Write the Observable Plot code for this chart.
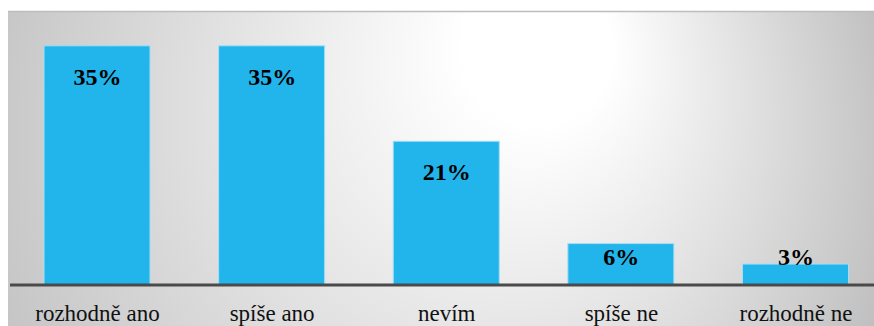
<!DOCTYPE html>
<html>
<head>
<meta charset="utf-8">
<script src="https://cdn.jsdelivr.net/npm/d3@7"></script>
<script src="https://cdn.jsdelivr.net/npm/@observablehq/plot@0.6"></script>
<style>
  html, body { margin: 0; padding: 0; background: #ffffff; }
  #chart svg { display: block; }
</style>
</head>
<body>
<div id="chart"></div>
<script>
// Survey answers and their shares (percent)
const categories = ["rozhodně ano", "spíše ano", "nevím", "spíše ne", "rozhodně ne"];
const shares = [35, 35, 21, 6, 3];
const shareLabels = ["35%", "35%", "21%", "6%", "3%"];

const rows = categories.map((category, i) => ({
  category,
  share: shares[i],
  label: shareLabels[i]
}));

const W = 874, H = 326;
const serif = "'Liberation Serif', 'Times New Roman', Times, serif";

// Bars shorter than this keep their label pinned just above the axis
const insideMin = 8.5;

// Shaded chart panel: broad white glow near the top, grey towards the edges
function panel(index, scales, values, dimensions) {
  const {width, height} = dimensions;
  const g = d3.create("svg:g");
  const grad = g.append("defs").append("radialGradient")
    .attr("id", "panel-shade")
    .attr("gradientUnits", "userSpaceOnUse")
    .attr("cx", 410).attr("cy", 165).attr("r", 500)
    .attr("fx", 560).attr("fy", 30);
  grad.append("stop").attr("offset", "0").attr("stop-color", "#ffffff");
  grad.append("stop").attr("offset", "0.15").attr("stop-color", "#ffffff");
  grad.append("stop").attr("offset", "1").attr("stop-color", "#bebebe");
  g.append("rect")
    .attr("x", 8).attr("y", 11)
    .attr("width", width - 8).attr("height", height - 11)
    .attr("fill", "url(#panel-shade)");
  g.append("line")
    .attr("x1", 8).attr("x2", width)
    .attr("y1", 11.5).attr("y2", 11.5)
    .attr("stroke", "#bdbdbd").attr("stroke-width", 1.5);
  return g.node();
}

const chart = Plot.plot({
  width: W,
  height: H,
  marginTop: 11.7,
  marginBottom: 41.5,
  marginLeft: 10,
  marginRight: 0,
  style: {fontFamily: serif, background: "transparent", overflow: "visible"},
  x: {
    domain: categories,
    range: [9.7, 882.8],
    paddingInner: 0.393,
    paddingOuter: 0.1965,
    round: false,
    label: null
  },
  y: {domain: [0, 40], axis: null},
  marks: [
    panel,
    Plot.barY(rows, {
      x: "category", y: "share",
      fill: "#22b5ec", stroke: "#a4def4", strokeWidth: 1
    }),
    Plot.ruleY([0], {stroke: "#4a4a4a", strokeWidth: 3}),
    Plot.text(rows.filter(d => d.share >= insideMin), {
      x: "category", y: "share", text: "label",
      lineAnchor: "bottom", dy: 38.6,
      fontFamily: serif, fontSize: 24, fontWeight: "bold", fill: "#000000"
    }),
    Plot.text(rows.filter(d => d.share < insideMin), {
      x: "category", y: () => 0, text: "label",
      lineAnchor: "bottom", dy: -19.8,
      fontFamily: serif, fontSize: 24, fontWeight: "bold", fill: "#000000"
    }),
    Plot.axisX({
      tickSize: 0, tickPadding: 19.7,
      fontFamily: serif, fontSize: 23, fill: "#111111", label: null
    })
  ]
});

document.getElementById("chart").appendChild(chart);
</script>
</body>
</html>
